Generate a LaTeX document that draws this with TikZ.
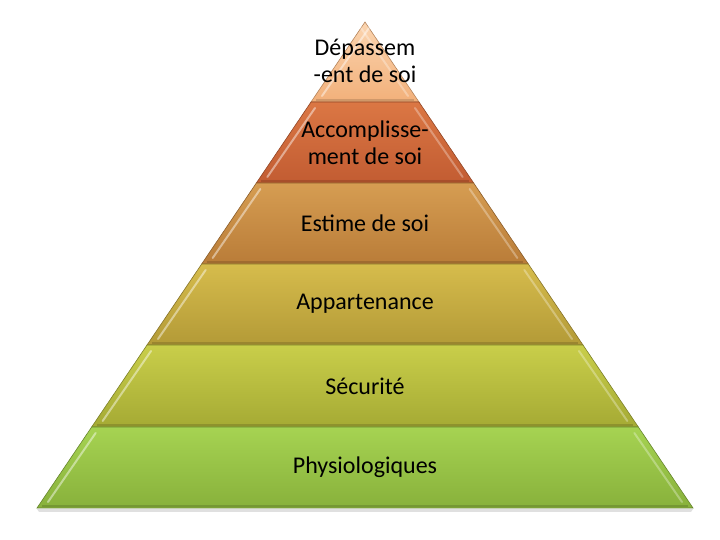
\documentclass[tikz,border=0pt]{standalone}
\usepackage{fontspec}
\setmainfont{Carlito}
\usepackage{xcolor}
\definecolor{peachtop}{HTML}{FBD5B0}
\definecolor{peachbot}{HTML}{F2B07A}
\definecolor{rusttop}{HTML}{DB7744}
\definecolor{rustbot}{HTML}{C25C32}
\definecolor{ochretop}{HTML}{D69D52}
\definecolor{ochrebot}{HTML}{B97C38}
\definecolor{goldtop}{HTML}{D6BC4C}
\definecolor{goldbot}{HTML}{B39A37}
\definecolor{limetop}{HTML}{C9CE4A}
\definecolor{limebot}{HTML}{A5AA34}
\definecolor{greentop}{HTML}{A6D352}
\definecolor{greenbot}{HTML}{88B13B}

\begin{document}
\begin{tikzpicture}[x=1pt,y=1pt,
    tierfill/.style={line width=0.6pt},
    tiertext/.style={font=\fontsize{24}{27}\selectfont, align=center, text=black}]
    \useasboundingbox (0,0) rectangle (720,540);
    % faint shadow under the base
    \fill[black!12] (37,540-509) -- (693,540-509) -- (691,540-512) -- (39,540-512) -- cycle;
    % the six tiers, apex at (365,22), base 37..693 at y=508
    \foreach \ya/\yb/\ct/\cb in {22/102/peachtop/peachbot, 102/183/rusttop/rustbot,
        183/264/ochretop/ochrebot, 264/345/goldtop/goldbot,
        345/427/limetop/limebot, 427/508/greentop/greenbot}{
        \pgfmathsetmacro\wa{(\ya-22)/486*328}
        \pgfmathsetmacro\wb{(\yb-22)/486*328}
        \shade[tierfill, top color=\ct, bottom color=\cb, draw=\cb!75!black]
            (365-\wa,540-\ya) -- (365+\wa,540-\ya) -- (365+\wb,540-\yb) -- (365-\wb,540-\yb) -- cycle;
        % bevel highlights on the slanted sides
        \draw[white, opacity=0.45, line width=2pt, line cap=round]
            (365-\wa+4,540-\ya-6) -- (365-\wb+11,540-\yb+6);
        \draw[white, opacity=0.3, line width=2pt, line cap=round]
            (365+\wa-4,540-\ya-6) -- (365+\wb-11,540-\yb+6);
        % darker rim along the bottom
        \draw[\cb!60!black, opacity=0.35, line width=1.5pt]
            (365-\wb+5,540-\yb+2) -- (365+\wb-5,540-\yb+2);
    }
    \node[tiertext] (depassement) at (365,540-61) {Dépassem\\-ent de soi};
    \node[tiertext] (accomplissement) at (365,540-143) {Accomplisse-\\ment de soi};
    \node[tiertext] (estime) at (365,540-223) {Estime de soi};
    \node[tiertext] (appartenance) at (365,540-304) {Appartenance};
    \node[tiertext] (securite) at (365,540-386) {Sécurité};
    \node[tiertext] (physio) at (365,540-467) {Physiologiques};
\end{tikzpicture}
\end{document}
